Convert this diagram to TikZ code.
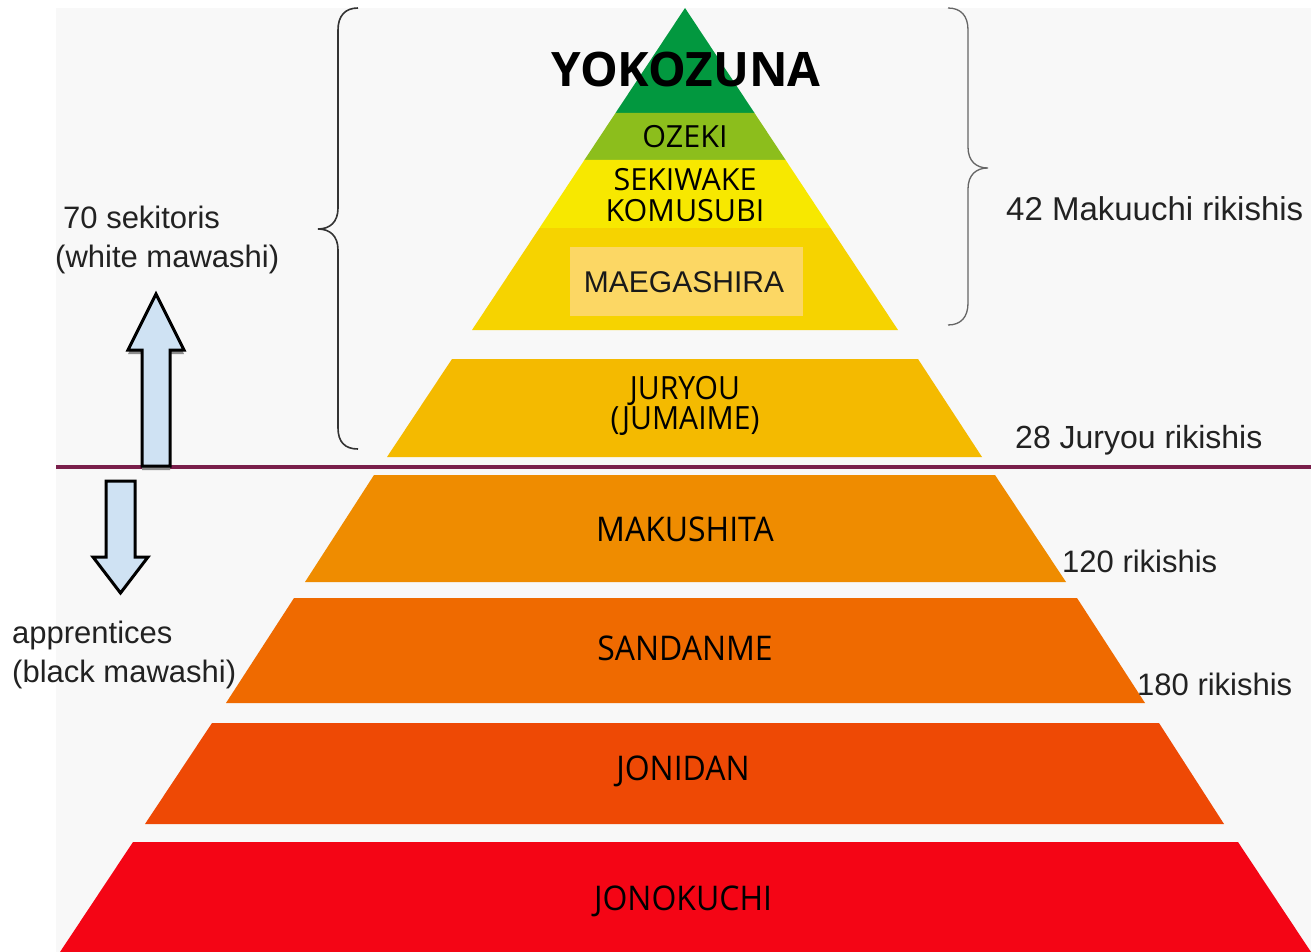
\documentclass[tikz,border=0pt]{standalone}
\usepackage{fontspec}
\setmainfont{Liberation Sans}
\newfontfamily\osans{Open Sans}
\newfontfamily\osansb{Open Sans}
\newfontfamily\osanscond[FakeStretch=0.94]{Open Sans}
\definecolor{bgray}{HTML}{F8F8F8}
\definecolor{ykz}{HTML}{02983F}
\definecolor{ozk}{HTML}{8CBE1C}
\definecolor{skw}{HTML}{F7E800}
\definecolor{mgs}{HTML}{F6D300}
\definecolor{mgsbox}{HTML}{FCD764}
\definecolor{jry}{HTML}{F4BA00}
\definecolor{mks}{HTML}{EF8C00}
\definecolor{sdm}{HTML}{EF6A00}
\definecolor{jnd}{HTML}{EE4905}
\definecolor{jnk}{HTML}{F40515}
\definecolor{plum}{HTML}{7A1F4B}
\definecolor{arrfill}{HTML}{CFE2F3}
\definecolor{txt}{HTML}{222222}
\tikzset{
  lbl/.style={font=\fontsize{31}{36}\selectfont, text=txt, inner sep=0, anchor=base west},
  rank/.style={font=\osans\fontsize{30.5}{34}\selectfont, text=black, inner sep=0, anchor=base},
  crank/.style={font=\osanscond\fontsize{34}{38}\selectfont, text=black, inner sep=0, anchor=base},
  blockarrow/.style={fill=arrfill, draw=black, line width=3pt, line join=miter},
  arrshadow/.style={fill=black!45},
  bracestyle/.style={line width=1.6pt, draw=black!80},
  bracethin/.style={line width=1.3pt, draw=black!60}
}
\begin{document}
\begin{tikzpicture}[x=1pt,y=-1pt]
\useasboundingbox (0,0) rectangle (1311,952);
\fill[white] (0,0) rectangle (1311,952);
\fill[bgray] (56,8) rectangle (1311,952);

% top triangle layers
\fill[ykz] (685,8) -- (754.5,113) -- (615.5,113) -- cycle;
\fill[ozk] (615.5,113) -- (754.5,113) -- (785.6,160) -- (584.4,160) -- cycle;
\fill[skw] (584.4,160) -- (785.6,160) -- (830.5,228) -- (539.5,228) -- cycle;
\fill[mgs] (539.5,228) -- (830.5,228) -- (898,330) -- (472,330) -- cycle;
\fill[mgsbox] (570,247) rectangle (803,316);

% lower trapezoids
\fill[jry] (452,359) -- (918,359) -- (982,457) -- (387,457) -- cycle;
\fill[mks] (374,475) -- (995,475) -- (1066,582) -- (305,582) -- cycle;
\fill[sdm] (294,598) -- (1077,598) -- (1145,703) -- (226,703) -- cycle;
\fill[jnd] (212,723) -- (1159,723) -- (1224,824) -- (145,824) -- cycle;
\fill[jnk] (133,842) -- (1238,842) -- (1311,952) -- (60,952) -- cycle;

% divider line
\coordinate (lineL) at (56,467);
\coordinate (lineR) at (1311,467);
\draw[plum, line width=4.5pt] (lineL) -- (lineR);

% rank labels
\node[font=\osansb\bfseries\fontsize{47.5}{50}\selectfont, inner sep=0, anchor=base] (yokozuna) at (686,87) {YOKOZUNA};
\node[rank] (ozeki) at (685,148) {OZEKI};
\node[rank] (sekiwake) at (685,190) {SEKIWAKE};
\node[rank] (komusubi) at (685,221) {KOMUSUBI};
\node[font=\fontsize{30}{34}\selectfont, text=black!90, inner sep=0, anchor=base] (maegashira) at (684,292) {MAEGASHIRA};
\node[font=\osanscond\fontsize{32}{30}\selectfont, text=black, inner sep=0, align=center, anchor=center] (juryou) at (685,406) {JURYOU\\(JUMAIME)};
\node[crank] (makushita) at (685,541) {MAKUSHITA};
\node[crank] (sandanme) at (685,660) {SANDANME};
\node[crank] (jonidan) at (683,780) {JONIDAN};
\node[crank] (jonokuchi) at (683,910) {JONOKUCHI};

% side labels
\node[lbl] (sek1) at (63,228) {70 sekitoris};
\node[lbl] (sek2) at (55,267) {(white mawashi)};
\node[lbl, font=\fontsize{33}{38}\selectfont] (makuuchi) at (1006,220) {42 Makuuchi rikishis};
\node[lbl, font=\fontsize{32}{37}\selectfont] (juryoun) at (1015,448) {28 Juryou rikishis};
\node[lbl] (app1) at (12,643) {apprentices};
\node[lbl] (app2) at (12,682) {(black mawashi)};
\node[lbl] (r120) at (1062,572) {120 rikishis};
\node[lbl] (r180) at (1137,695) {180 rikishis};

% braces
\draw[bracestyle] (358,8) .. controls (345,8) and (338,16) .. (338,30) -- (338,208)
  .. controls (338,222) and (330,229) .. (318,229)
  .. controls (330,229) and (338,236) .. (338,250) -- (338,428)
  .. controls (338,442) and (345,449) .. (358,449);
\draw[bracethin] (948,8) .. controls (961,8) and (968,16) .. (968,30) -- (968,147)
  .. controls (968,161) and (976,168) .. (988,168)
  .. controls (976,168) and (968,175) .. (968,189) -- (968,303)
  .. controls (968,317) and (961,325) .. (948,325);

% block arrows
\fill[arrshadow] (142,470) -- (142,354) -- (128,354) -- (156,298) -- (184,354) -- (170,354) -- (170,470) -- cycle;
\draw[blockarrow] (142,466) -- (142,350) -- (128,350) -- (156,294) -- (184,350) -- (170,350) -- (170,466) -- cycle;
\draw[blockarrow] (106,481) -- (135,481) -- (135,557) -- (148,557) -- (120.5,593) -- (93,557) -- (106,557) -- cycle;
\end{tikzpicture}
\end{document}
